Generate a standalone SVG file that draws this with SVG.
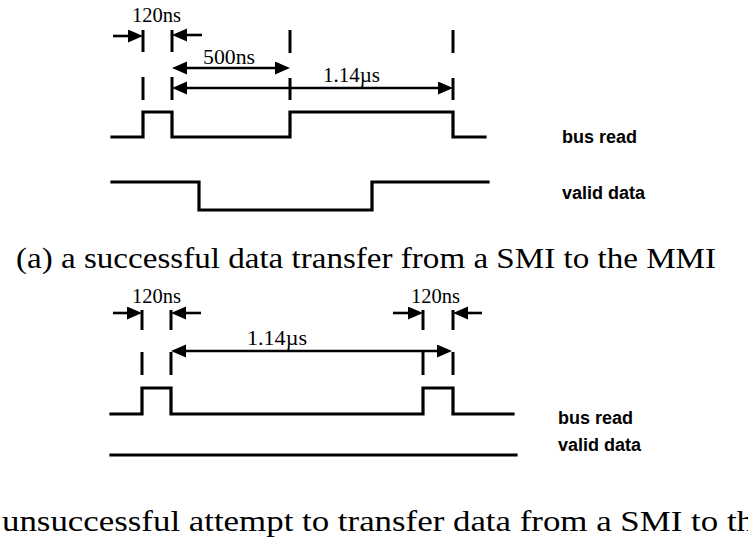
<svg xmlns="http://www.w3.org/2000/svg" width="748" height="551" viewBox="0 0 748 551">
  <style>
    .wave { fill: none; stroke: #000; stroke-width: 3.2; stroke-linejoin: miter; stroke-linecap: square; }
    .tick { stroke: #000; stroke-width: 3; }
    .dim { stroke: #000; stroke-width: 2.6; fill: none; }
    .dim-r { marker-end: url(#head); }
    .dim-2 { marker-start: url(#head); marker-end: url(#head); }
    .t { font-family: "Liberation Serif", "Times New Roman", serif; font-size: 20px; fill: #000; }
    .sig { font-family: "Liberation Sans", Arial, sans-serif; font-size: 18px; font-weight: bold; fill: #000; }
    .cap { font-family: "Liberation Serif", "Times New Roman", serif; font-size: 30px; fill: #000; }
  </style>
  <defs>
    <!-- filled arrowhead; the tip sits 9px past the end of the shaft -->
    <marker id="head" markerUnits="userSpaceOnUse" markerWidth="16" markerHeight="14" refX="6" refY="6.5" orient="auto-start-reverse">
      <path d="M0,0 L15,6.5 L0,13 z" fill="#000"/>
    </marker>
  </defs>

  <rect width="748" height="551" fill="#fff"/>

  <!-- (a) successful transfer -->
  <g id="timing-a">
    <g id="a-ticks">
      <line class="tick" x1="143" y1="30" x2="143" y2="52"/>
      <line class="tick" x1="172" y1="30" x2="172" y2="52"/>
      <line class="tick" x1="290" y1="30" x2="290" y2="53"/>
      <line class="tick" x1="453" y1="30" x2="453" y2="53"/>
      <line class="tick" x1="143" y1="77" x2="143" y2="100"/>
      <line class="tick" x1="172" y1="77" x2="172" y2="100"/>
      <line class="tick" x1="290" y1="78" x2="290" y2="100"/>
      <line class="tick" x1="453" y1="78" x2="453" y2="100"/>
    </g>
    <g id="a-dimensions">
      <line class="dim dim-r" x1="113" y1="36" x2="134" y2="36"/>
      <line class="dim dim-r" x1="202" y1="35" x2="181" y2="35"/>
      <line class="dim dim-2" x1="181" y1="68" x2="281" y2="68"/>
      <line class="dim dim-2" x1="181" y1="88" x2="444" y2="88"/>
      <text class="t" x="132" y="22" textLength="49" lengthAdjust="spacingAndGlyphs">120ns</text>
      <text class="t" x="203" y="64" textLength="52" lengthAdjust="spacingAndGlyphs">500ns</text>
      <text class="t" x="323" y="82" textLength="57" lengthAdjust="spacingAndGlyphs">1.14µs</text>
    </g>
    <g id="a-bus-read">
      <path class="wave" d="M112,137 H143 V112 H172 V137 H290 V112 H453 V137 H485"/>
      <text class="sig" x="562" y="143">bus read</text>
    </g>
    <g id="a-valid-data">
      <path class="wave" d="M112,182 H199 V210 H372 V182 H488"/>
      <text class="sig" x="562" y="199">valid data</text>
    </g>
    <text class="cap" x="16" y="268" textLength="700" lengthAdjust="spacingAndGlyphs">(a) a successful data transfer from a SMI to the MMI</text>
  </g>

  <!-- (b) unsuccessful attempt -->
  <g id="timing-b">
    <g id="b-ticks">
      <line class="tick" x1="142" y1="310" x2="142" y2="330"/>
      <line class="tick" x1="171" y1="310" x2="171" y2="330"/>
      <line class="tick" x1="423" y1="310" x2="423" y2="330"/>
      <line class="tick" x1="453" y1="310" x2="453" y2="330"/>
      <line class="tick" x1="142" y1="352" x2="142" y2="375"/>
      <line class="tick" x1="171" y1="352" x2="171" y2="375"/>
      <line class="tick" x1="423" y1="352" x2="423" y2="375"/>
      <line class="tick" x1="453" y1="352" x2="453" y2="375"/>
    </g>
    <g id="b-dimensions">
      <line class="dim dim-r" x1="113" y1="313" x2="133" y2="313"/>
      <line class="dim dim-r" x1="201" y1="313" x2="180" y2="313"/>
      <line class="dim dim-r" x1="393" y1="313" x2="414" y2="313"/>
      <line class="dim dim-r" x1="482" y1="313" x2="462" y2="313"/>
      <line class="dim dim-2" x1="180" y1="351" x2="443" y2="351"/>
      <text class="t" x="132" y="303" textLength="49" lengthAdjust="spacingAndGlyphs">120ns</text>
      <text class="t" x="411" y="303" textLength="49" lengthAdjust="spacingAndGlyphs">120ns</text>
      <text class="t" x="247" y="345" textLength="60" lengthAdjust="spacingAndGlyphs">1.14µs</text>
    </g>
    <g id="b-bus-read">
      <path class="wave" d="M111,414 H142 V388 H171 V414 H423 V388 H453 V414 H513"/>
      <text class="sig" x="558" y="424">bus read</text>
    </g>
    <g id="b-valid-data">
      <path class="wave" d="M111,455 H516"/>
      <text class="sig" x="558" y="451">valid data</text>
    </g>
    <text class="cap" x="2" y="531" textLength="752" lengthAdjust="spacingAndGlyphs">unsuccessful attempt to transfer data from a SMI to th</text>
  </g>
</svg>
